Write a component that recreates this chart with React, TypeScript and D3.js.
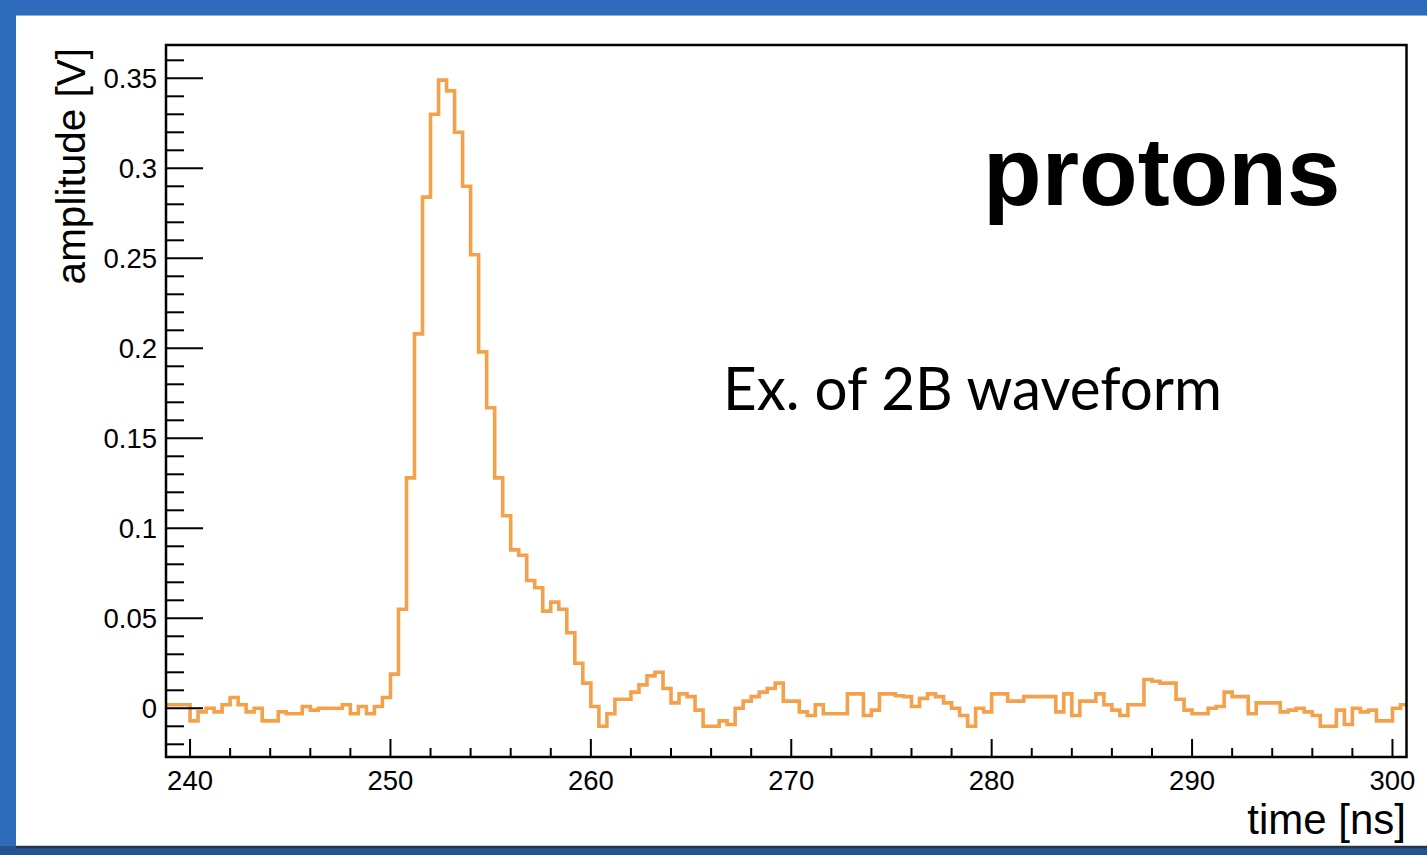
import React from 'react';
import * as d3 from 'd3';

// Sampled waveform: one value per 0.4 ns bin, starting at 238.8 ns
const binStart = 238.8;
const binWidth = 0.4;
const amplitude = [
  0.002, 0.002, 0.002, -0.007, -0.002, 0, -0.002, 0.002, 0.006, 0.002,
  -0.002, 0, -0.007, -0.007, -0.002, -0.003, -0.003, 0.001, -0.001, 0,
  0, 0, 0.002, -0.003, 0.001, -0.003, 0.001, 0.006, 0.019, 0.055,
  0.128, 0.208, 0.284, 0.33, 0.349, 0.343, 0.32, 0.29, 0.252, 0.198,
  0.167, 0.128, 0.107, 0.088, 0.085, 0.071, 0.067, 0.054, 0.059, 0.055,
  0.042, 0.025, 0.014, 0.001, -0.01, -0.003, 0.005, 0.005, 0.009, 0.013,
  0.018, 0.02, 0.011, 0.003, 0.008, 0.0065, -0.001, -0.01, -0.01, -0.007,
  -0.009, 0, 0.004, 0.0065, 0.009, 0.011, 0.014, 0.004, 0.004, -0.002,
  -0.004, 0.002, -0.003, -0.003, -0.003, 0.008, 0.008, -0.004, -0.001, 0.008,
  0.008, 0.007, 0.0065, 0.001, 0.0055, 0.008, 0.0065, 0.003, 0, -0.004,
  -0.01, 0, -0.002, 0.008, 0.008, 0.004, 0.004, 0.0065, 0.0065, 0.0065,
  0.0065, -0.002, 0.008, -0.004, 0.004, 0.004, 0.008, 0.002, -0.001, -0.004,
  0.002, 0.002, 0.016, 0.015, 0.014, 0.014, 0.005, -0.001, -0.003, -0.003,
  0, 0.001, 0.009, 0.0065, 0.0065, -0.003, 0.003, 0.003, 0.003, -0.002,
  -0.001, 0, -0.002, -0.004, -0.01, -0.01, -0.001, -0.009, 0, -0.002,
  -0.001, -0.007, -0.007, 0, 0.002,
];

const xMajorTicks = [240, 250, 260, 270, 280, 290, 300];
const xTickLabels = ['240', '250', '260', '270', '280', '290', '300'];
const yMajorTicks = [0, 0.05, 0.1, 0.15, 0.2, 0.25, 0.3, 0.35];
const yTickLabels = ['0', '0.05', '0.1', '0.15', '0.2', '0.25', '0.3', '0.35'];

const W = 1427;
const H = 855;
const frame = { left: 166, right: 1406.5, top: 45, bottom: 757 };

const axisFont = '"Liberation Sans", Arial, Helvetica, sans-serif';

export default function App() {
  const x = d3.scaleLinear().domain([238.8, 300.7]).range([frame.left, frame.right]);
  const y = d3.scaleLinear().domain([-0.02706, 0.3685]).range([frame.bottom, frame.top]);

  const pts: [number, number][] = amplitude.map((v, i) => [binStart + i * binWidth, v]);
  pts.push([binStart + amplitude.length * binWidth, amplitude[amplitude.length - 1]]);
  const stepPath = d3
    .line<[number, number]>()
    .x((d) => x(d[0]))
    .y((d) => y(d[1]))
    .curve(d3.curveStepAfter)(pts) as string;

  const xMinor = d3.range(240, 301, 2).filter((t) => t % 10 !== 0);
  const yMinor = d3
    .range(-2, 37, 1)
    .map((i) => i / 100)
    .filter((_, i) => (i - 2) % 5 !== 0);

  return (
    <svg
      width={W}
      height={H}
      viewBox={`0 0 ${W} ${H}`}
      style={{ position: 'absolute', left: 0, top: 0, display: 'block' }}
    >
      <rect x={0} y={0} width={W} height={H} fill="#2e6cbb" />
      <rect x={0} y={846} width={W} height={H - 846} fill="#24538f" />
      <rect x={16} y={15} width={W - 16} height={831} fill="#ffffff" />
      <line x1={16} x2={W} y1={15.5} y2={15.5} stroke="#8cb0e0" strokeWidth={1} />
      <line x1={16} x2={W} y1={847} y2={847} stroke="#26344c" strokeWidth={2.5} />

      <defs>
        <clipPath id="plot-area">
          <rect
            x={frame.left}
            y={frame.top}
            width={frame.right - frame.left}
            height={frame.bottom - frame.top}
          />
        </clipPath>
      </defs>

      {/* waveform */}
      <path
        d={stepPath}
        fill="none"
        stroke="#f4a14c"
        strokeWidth={3.6}
        strokeLinejoin="miter"
        clipPath="url(#plot-area)"
      />

      {/* axis ticks */}
      <g stroke="#000" strokeWidth={2}>
        {yMajorTicks.map((t) => (
          <line key={`ym${t}`} x1={frame.left} x2={frame.left + 37} y1={y(t)} y2={y(t)} />
        ))}
        {yMinor.map((t) => (
          <line key={`yn${t}`} x1={frame.left} x2={frame.left + 18} y1={y(t)} y2={y(t)} />
        ))}
        {xMajorTicks.map((t) => (
          <line key={`xm${t}`} x1={x(t)} x2={x(t)} y1={frame.bottom} y2={frame.bottom - 18} />
        ))}
        {xMinor.map((t) => (
          <line key={`xn${t}`} x1={x(t)} x2={x(t)} y1={frame.bottom} y2={frame.bottom - 9} />
        ))}
      </g>

      {/* frame */}
      <rect
        x={frame.left}
        y={frame.top}
        width={frame.right - frame.left}
        height={frame.bottom - frame.top}
        fill="none"
        stroke="#000"
        strokeWidth={2.5}
      />

      {/* tick labels */}
      <g fontFamily={axisFont} fontSize={27.5} fill="#000">
        {yMajorTicks.map((t, i) => (
          <text key={`yl${t}`} x={157} y={y(t)} dy="0.36em" textAnchor="end">
            {yTickLabels[i]}
          </text>
        ))}
        {xMajorTicks.map((t, i) => (
          <text key={`xl${t}`} x={x(t)} y={790} textAnchor="middle">
            {xTickLabels[i]}
          </text>
        ))}
      </g>

      {/* axis titles */}
      <text
        x={1406}
        y={834}
        textAnchor="end"
        fontFamily={axisFont}
        fontSize={42}
        fill="#000"
      >
        time [ns]
      </text>
      <text
        transform="translate(85,48) rotate(-90)"
        textAnchor="end"
        fontFamily={axisFont}
        fontSize={40.5}
        fill="#000"
      >
        amplitude [V]
      </text>

      {/* annotations */}
      <text
        x={983}
        y={205}
        fontFamily={axisFont}
        fontWeight="bold"
        fontSize={96}
        fill="#000"
      >
        protons
      </text>
      <text
        x={723}
        y={410}
        fontFamily='Lato, "Open Sans", sans-serif'
        fontSize={60}
        fill="#000"
        textLength={499}
        lengthAdjust="spacingAndGlyphs"
      >
        Ex. of 2B waveform
      </text>
    </svg>
  );
}
